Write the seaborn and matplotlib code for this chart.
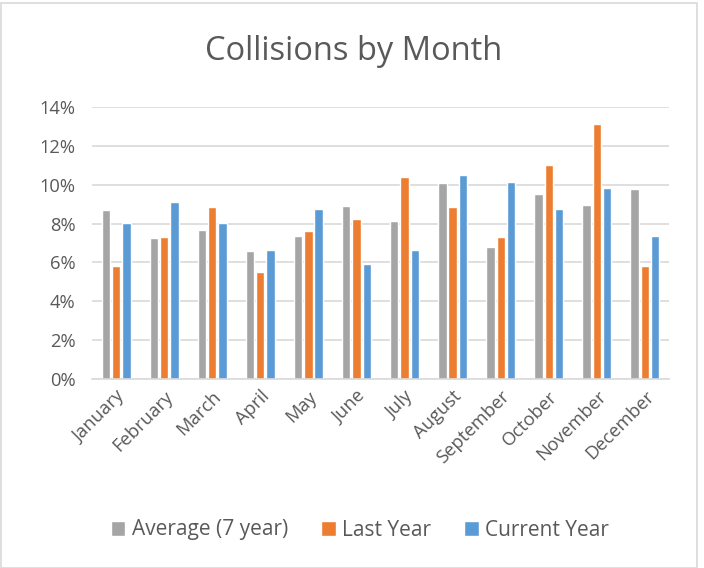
import matplotlib
matplotlib.use("Agg")
import matplotlib.pyplot as plt
import seaborn as sns
import pandas as pd
from matplotlib.patches import Rectangle
from matplotlib.ticker import FuncFormatter, MultipleLocator

months = ["January", "February", "March", "April", "May", "June", "July",
          "August", "September", "October", "November", "December"]
average_7yr = [8.71, 7.27, 7.65, 6.57, 7.38, 8.92, 8.13, 10.07, 6.81, 9.52, 8.95, 9.76]
last_year = [5.80, 7.32, 8.87, 5.49, 7.62, 8.23, 10.38, 8.87, 7.32, 10.99, 13.14, 5.80]
current_year = [8.04, 9.11, 8.04, 6.66, 8.77, 5.93, 6.66, 10.50, 10.15, 8.77, 9.81, 7.34]
series_names = ["Average (7 year)", "Last Year", "Current Year"]
colors = ["#A5A5A5", "#ED7D31", "#5B9BD5"]

df = pd.DataFrame({
    "Month": months * 3,
    "Value": average_7yr + last_year + current_year,
    "Series": [series_names[0]] * 12 + [series_names[1]] * 12 + [series_names[2]] * 12,
})

sns.set_theme(style="white")
plt.rcParams["font.family"] = ["Open Sans", "DejaVu Sans"]
text_color = "#595959"

fig = plt.figure(figsize=(7.04, 5.68), dpi=100)
ax = fig.add_axes([92 / 704, 1 - 379 / 568, (669 - 92) / 704, (379 - 107) / 568])

sns.barplot(data=df, x="Month", y="Value", hue="Series", palette=colors,
            order=months, hue_order=series_names, width=0.64, gap=0.18,
            saturation=1, ax=ax, legend=True)

ax.set_ylim(0, 14)
ax.yaxis.set_major_locator(MultipleLocator(2))
ax.yaxis.set_major_formatter(FuncFormatter(lambda v, p: f"{int(v)}%"))
ax.grid(axis="y", color="#D9D9D9", linewidth=1.2)
ax.set_axisbelow(True)
for s in ["top", "right", "left"]:
    ax.spines[s].set_visible(False)
ax.spines["bottom"].set_color("#D9D9D9")
ax.spines["bottom"].set_linewidth(1.2)
ax.set_xlabel("")
ax.set_ylabel("")
ax.tick_params(axis="both", colors=text_color, labelsize=13.2, length=0)
ax.tick_params(axis="y", pad=12)
ax.tick_params(axis="x", pad=6)
plt.setp(ax.get_xticklabels(), rotation=45, ha="right", rotation_mode="anchor")
ax.set_xlim(-0.5, 11.5)

fig.text(354 / 704, 1 - 52 / 568, "Collisions by Month", ha="center", va="center",
         fontsize=23.5, color=text_color)

handles, labels = ax.get_legend_handles_labels()
ax.get_legend().remove()
fig.legend(handles, labels, loc="center", bbox_to_anchor=(360 / 704, 1 - 530 / 568),
           ncol=3, frameon=False, fontsize=15, labelcolor=text_color,
           handlelength=0.7, handleheight=0.7, handletextpad=0.3, columnspacing=1.6)

fig.patches.append(Rectangle((0.5 / 704, 0.5 / 568), 696 / 704, 565 / 568,
                             transform=fig.transFigure, fill=False,
                             edgecolor="#D9D9D9", linewidth=1.2))

fig.savefig("out.png", dpi=100)
